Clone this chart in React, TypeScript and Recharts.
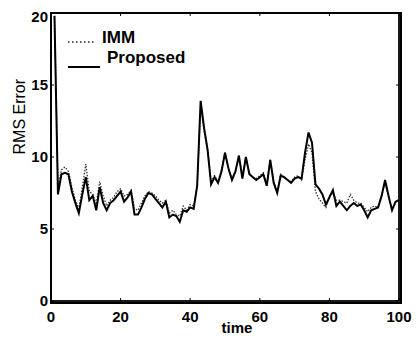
import React from 'react';
import { LineChart, Line, XAxis, YAxis, Customized } from 'recharts';

const times = [
  1, 2, 3, 4, 5, 6, 7, 8, 9, 10, 11, 12, 13, 14, 15, 16, 17, 18, 19, 20,
  21, 22, 23, 24, 25, 26, 27, 28, 29, 30, 31, 32, 33, 34, 35, 36, 37, 38, 39, 40,
  41, 42, 43, 44, 45, 46, 47, 48, 49, 50, 51, 52, 53, 54, 55, 56, 57, 58, 59, 60,
  61, 62, 63, 64, 65, 66, 67, 68, 69, 70, 71, 72, 73, 74, 75, 76, 77, 78, 79, 80,
  81, 82, 83, 84, 85, 86, 87, 88, 89, 90, 91, 92, 93, 94, 95, 96, 97, 98, 99, 100,
];

const proposed = [
  19.8, 7.4, 8.8, 8.9, 8.8, 7.6, 6.8, 6.1, 7.4, 8.6, 7.0, 7.3, 6.3, 7.9, 6.8, 6.3, 6.8, 7.0, 7.3, 7.6,
  6.9, 7.2, 7.6, 6.0, 6.0, 6.5, 7.1, 7.5, 7.4, 7.1, 6.8, 6.5, 6.9, 5.8, 6.0, 5.9, 5.5, 6.3, 6.2, 6.5,
  6.4, 8.0, 13.9, 12.0, 10.5, 8.1, 8.6, 8.2, 9.0, 10.3, 9.2, 8.4, 9.0, 10.1, 8.5, 10.0, 8.8, 8.6, 8.4, 8.6,
  8.8, 8.0, 9.8, 8.2, 7.5, 8.7, 8.6, 8.4, 8.2, 8.5, 8.6, 8.5, 10.3, 11.7, 11.0, 8.1, 7.8, 7.4, 6.7, 7.2,
  7.7, 6.6, 6.9, 6.6, 6.3, 6.6, 6.8, 6.6, 6.7, 6.3, 5.8, 6.3, 6.4, 6.5, 7.3, 8.4, 7.3, 6.3, 6.9, 7.0,
];

const imm = [
  19.8, 7.9, 9.1, 9.3, 9.0, 7.9, 7.0, 6.4, 7.9, 9.5, 7.6, 7.4, 6.7, 8.3, 7.3, 6.6, 7.0, 7.2, 7.6, 7.8,
  7.3, 7.4, 7.7, 6.4, 6.3, 6.8, 7.3, 7.6, 7.5, 7.3, 7.0, 6.8, 7.0, 6.1, 6.3, 6.0, 5.9, 6.6, 6.3, 6.7,
  6.6, 8.0, 13.5, 11.8, 10.5, 8.3, 8.7, 8.3, 9.1, 10.3, 9.2, 8.5, 9.0, 10.0, 8.7, 10.0, 8.9, 8.6, 8.5, 8.7,
  8.9, 8.1, 9.8, 8.3, 7.6, 8.8, 8.6, 8.4, 8.3, 8.6, 8.7, 8.4, 9.8, 10.9, 10.3, 7.6, 7.1, 6.8, 6.5, 7.3,
  7.5, 7.0, 7.0, 6.9, 6.8, 7.4, 7.0, 6.8, 6.8, 6.5, 6.2, 6.5, 6.6, 6.5, 7.3, 8.2, 7.2, 6.4, 6.8, 7.1,
];

const xTicks = [0, 20, 40, 60, 80, 100];
const yTicks = [0, 5, 10, 15, 20];
const xDomain = [0, 100];
const yDomain = [0, 20];
const seriesNames = ['IMM', 'Proposed'];
const xLabel = 'time';
const yLabel = 'RMS Error';

const data = times.map((t, i) => ({ t, proposed: proposed[i], imm: imm[i] }));

const FONT = '"Liberation Sans", Arial, sans-serif';

const CHART_W = 412;
const CHART_H = 337;
const MARGIN = { top: 5, right: 21, bottom: 14, left: 0 };
const Y_AXIS_W = 43;
const X_AXIS_H = 30;
const PLOT_X = MARGIN.left + Y_AXIS_W;
const PLOT_Y = MARGIN.top;
const PLOT_W = CHART_W - MARGIN.left - MARGIN.right - Y_AXIS_W;
const PLOT_H = CHART_H - MARGIN.top - MARGIN.bottom - X_AXIS_H;

const Frame = () => {
  const x = PLOT_X;
  const y = PLOT_Y;
  const w = PLOT_W;
  const h = PLOT_H;
  const sx = (v: number) => x + ((v - xDomain[0]) / (xDomain[1] - xDomain[0])) * w;
  const sy = (v: number) => y + h - ((v - yDomain[0]) / (yDomain[1] - yDomain[0])) * h;
  const tk = 3;
  let d = '';
  xTicks.forEach((v) => {
    d += `M${sx(v)},${y + h}v${-tk}M${sx(v)},${y}v${tk}`;
  });
  yTicks.forEach((v) => {
    d += `M${x},${sy(v)}h${tk}M${x + w},${sy(v)}h${-tk}`;
  });
  return (
    <g>
      <rect x={x} y={y} width={w} height={h} stroke="#000" strokeWidth={1.8} fill="none" />
      <path d={d} stroke="#000" strokeWidth={1} fill="none" />
    </g>
  );
};

const LegendBox = () => (
  <g fontFamily={FONT} fontWeight="bold" fontSize={17} fill="#000">
    <line x1={60} y1={34} x2={87} y2={34} stroke="#222" strokeWidth={1.6} strokeDasharray="1.5 2.5" />
    <text x={94} y={35}>{seriesNames[0]}</text>
    <line x1={60} y1={59} x2={92} y2={59} stroke="#000" strokeWidth={2} />
    <text x={99} y={55}>{seriesNames[1]}</text>
  </g>
);

const YLab = (props: any) => {
  const vb = props.viewBox;
  const x = vb.x + vb.width - 26;
  const y = vb.y + vb.height * 0.36;
  return (
    <text x={x} y={y} transform={`rotate(-90, ${x}, ${y})`} textAnchor="middle" fontFamily={FONT} fontSize={16} fill="#000">
      {yLabel}
    </text>
  );
};

const XLab = (props: any) => {
  const vb = props.viewBox;
  return (
    <text x={vb.x + vb.width / 2 + 12} y={vb.y + 32} textAnchor="middle" fontFamily={FONT} fontWeight="bold" fontSize={15} fill="#000">
      {xLabel}
    </text>
  );
};

export default function App() {
  const tickStyle = { fontFamily: FONT, fontWeight: 'bold', fontSize: 15, fill: '#000' };
  return (
    <div style={{ position: 'relative', width: CHART_W, height: CHART_H }}>
      <LineChart width={CHART_W} height={CHART_H} data={data} margin={MARGIN}>
        <XAxis
          dataKey="t"
          type="number"
          domain={xDomain}
          ticks={xTicks}
          tickLine={false}
          tickSize={0}
          tickMargin={10}
          height={X_AXIS_H}
          axisLine={false}
          tick={tickStyle}
          label={<XLab />}
        />
        <YAxis
          type="number"
          domain={yDomain}
          ticks={yTicks}
          width={Y_AXIS_W}
          tickLine={false}
          tickSize={0}
          tickMargin={3}
          axisLine={false}
          tick={tickStyle}
          label={<YLab />}
        />
        <Line
          type="linear"
          dataKey="imm"
          name={seriesNames[0]}
          stroke="#333"
          strokeWidth={1.3}
          strokeDasharray="1.5 1.5"
          dot={false}
          isAnimationActive={false}
        />
        <Line
          type="linear"
          dataKey="proposed"
          name={seriesNames[1]}
          stroke="#000"
          strokeWidth={2}
          dot={false}
          isAnimationActive={false}
        />
        <Customized component={Frame} />
        <Customized component={LegendBox} />
      </LineChart>
      <div
        style={{
          position: 'absolute',
          left: PLOT_X - 1,
          top: PLOT_Y - 1,
          width: PLOT_W,
          height: PLOT_H,
          border: '2px solid #000',
          pointerEvents: 'none',
        }}
      />
    </div>
  );
}
